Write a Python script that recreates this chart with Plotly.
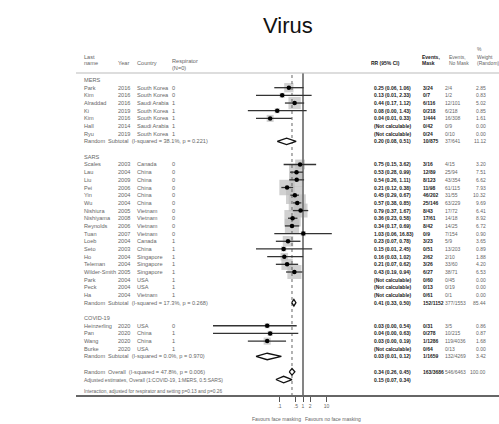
import math
import plotly.graph_objects as go

W, H = 499, 424

# ---------------- data ----------------
group_names = ["MERS", "SARS", "COVID-19"]
group_i2 = ["38.1%", "17.3%", "0.0%"]
group_p = ["0.221", "0.268", "0.970"]
group_rr = [0.20, 0.41, 0.03]
group_lo = [0.08, 0.33, 0.01]
group_hi = [0.51, 0.50, 0.12]
group_ev_mask = ["10/875", "152/1152", "1/1659"]
group_ev_nomask = ["37/641", "377/1553", "132/4269"]
group_weight = [11.12, 85.44, 3.42]

study_group = [0] * 7 + [1] * 18 + [2] * 4
study_name = ["Park", "Kim", "Alraddad", "Ki", "Kim", "Hall", "Ryu",
              "Scales", "Lau", "Liu", "Pei", "Yin", "Wu", "Nishiura", "Nishiyama",
              "Reynolds", "Tuan", "Loeb", "Seto", "Ho", "Teleman", "Wilder-Smith",
              "Park", "Peck", "Ha",
              "Heinzerling", "Pan", "Wang", "Burke"]
study_year = [2016, 2016, 2016, 2019, 2016, 2014, 2019,
              2003, 2004, 2009, 2006, 2004, 2004, 2005, 2008, 2006, 2007, 2004, 2003,
              2004, 2004, 2005, 2004, 2004, 2004,
              2020, 2020, 2020, 2020]
study_country = ["South Korea", "South Korea", "Saudi Arabia", "South Korea", "South Korea",
                 "Saudi Arabia", "South Korea",
                 "Canada", "China", "China", "China", "China", "China", "Vietnam", "Vietnam",
                 "Vietnam", "Vietnam", "Canada", "China", "Singapore", "Singapore", "Singapore",
                 "USA", "USA", "Vietnam",
                 "USA", "China", "China", "USA"]
study_resp = [0, 0, 1, 1, 1, 1, 1,
              0, 0, 0, 0, 0, 0, 0, 0, 0, 0, 1, 1, 1, 1, 1, 1, 1, 1,
              0, 1, 1, 1]
study_rr = [0.25, 0.13, 0.44, 0.08, 0.04, None, None,
            0.75, 0.53, 0.54, 0.21, 0.45, 0.57, 0.79, 0.36, 0.34, 1.03, 0.23, 0.15,
            0.16, 0.21, 0.43, None, None, None,
            0.03, 0.04, 0.03, None]
study_lo = [0.06, 0.01, 0.17, 0.0045, 0.01, None, None,
            0.15, 0.28, 0.26, 0.12, 0.29, 0.38, 0.37, 0.23, 0.17, 0.06, 0.07, 0.01,
            0.03, 0.07, 0.19, None, None, None,
            0.0001, 0.0001, 0.0045, None]
study_hi = [1.06, 2.33, 1.12, 1.43, 0.33, None, None,
            3.62, 0.99, 1.11, 0.38, 0.67, 0.85, 1.67, 0.58, 0.69, 16.83, 0.78, 2.45,
            1.02, 0.62, 0.94, None, None, None,
            0.54, 0.63, 0.19, None]
study_ev_mask = ["3/24", "0/7", "6/116", "0/218", "1/444", "0/42", "0/24",
                 "3/16", "12/89", "8/123", "11/98", "46/202", "25/146", "8/43", "17/61",
                 "8/42", "0/9", "3/23", "0/51", "2/62", "3/26", "6/27", "0/60", "0/13", "0/61",
                 "0/31", "0/278", "1/1286", "0/64"]
study_ev_nomask = ["2/4", "1/2", "12/101", "6/218", "16/308", "0/9", "0/10",
                   "4/15", "25/94", "43/354", "61/115", "31/55", "63/229", "17/72", "14/18",
                   "14/25", "7/154", "5/9", "13/203", "2/10", "33/60", "38/71", "0/45", "0/19", "0/1",
                   "3/5", "10/215", "119/4036", "0/13"]
study_weight = [2.85, 0.83, 5.02, 0.85, 1.61, 0.00, 0.00,
                3.20, 7.51, 6.62, 7.93, 10.32, 9.69, 6.41, 8.92, 6.72, 0.90, 3.65, 0.89,
                1.88, 4.20, 6.53, 0.00, 0.00, 0.00,
                0.86, 0.87, 1.68, 0.00]

overall_rr, overall_lo, overall_hi = 0.34, 0.26, 0.45
overall_i2, overall_p = "47.8%", "0.006"
overall_ev_mask, overall_ev_nomask, overall_weight = "163/3686", "546/6463", 100.00
adjusted_rr, adjusted_lo, adjusted_hi = 0.15, 0.07, 0.34
adjusted_label = "Adjusted estimates, Overall (1:COVID-19, 1:MERS, 0.5:SARS)"
interaction_label = "Interaction, adjusted for respirator and setting p=0.13 and p=0.26"

tick_vals = [0.1, 0.5, 1, 2, 10]
tick_text = [".1", ".5", "1", "2", "10"]

# ---------------- layout helpers ----------------
ROW0, ROWH = 80.0, 7.68          # pixel y of first row, row height
TOP_PX, BOT_PX = 73.0, 396.0     # plot area vertical extent
X_LEFT_PX, X_RIGHT_PX, X_ONE_PX, DEC_PX = 213.0, 340.0, 303.0, 23.5

y_range = [(BOT_PX - ROW0) / ROWH, (TOP_PX - ROW0) / ROWH]
x_range = [(X_LEFT_PX - X_ONE_PX) / DEC_PX, (X_RIGHT_PX - X_ONE_PX) / DEC_PX]

FONT = "Liberation Sans, Arial, sans-serif"
GRAY = "#666666"
DARK = "#1a1a1a"
FS = 5.6      # label font
DS = 5.0      # data column font

annotations = []


def px(x):
    return x / W


def py(y):
    return 1 - y / H


def txt(xpix, row, text, anchor="left", bold=False, color=GRAY, size=FS, paper_y=None):
    a = dict(x=px(xpix), xref="paper", text=("<b>%s</b>" % text) if bold else text,
             showarrow=False, xanchor=anchor, yanchor="middle",
             font=dict(family=FONT, size=size, color=color), borderpad=0)
    if paper_y is None:
        a.update(y=row, yref="y")
    else:
        a.update(y=py(paper_y), yref="paper")
    annotations.append(a)


def fmt_ci(r, l, h):
    return "%.2f (%.2f, %.2f)" % (r, l, h)


X_NAME, X_YEAR, X_COUNTRY, X_RESP = 82.5, 117, 136, 171
X_SUB = 106.7
X_RR, X_EVM, X_EVN, X_W_R = 373, 421.5, 443.5, 487

# headers
txt(X_NAME, 0, "Last", paper_y=56.5)
txt(X_NAME, 0, "name", paper_y=63)
txt(X_YEAR, 0, "Year", paper_y=63)
txt(X_COUNTRY, 0, "Country", paper_y=63)
txt(X_RESP, 0, "Respirator", paper_y=61.5)
txt(X_RESP, 0, "(N=0)", paper_y=68)
txt(370, 0, "RR (95% CI)", bold=True, color=DARK, size=DS, paper_y=63)
txt(421, 0, "Events,", bold=True, color=DARK, size=DS, paper_y=56.5)
txt(421, 0, "Mask", bold=True, color=DARK, size=DS, paper_y=63)
txt(448, 0, "Events,", size=DS, paper_y=56.5)
txt(448, 0, "No Mask", size=DS, paper_y=63)
txt(475.5, 0, "%", size=DS, paper_y=49.5)
txt(475.5, 0, "Weight", size=DS, paper_y=56.5)
txt(475.5, 0, "(Random)", size=DS, paper_y=63)

# rows
box_x, box_y, box_s = [], [], []
ci_x, ci_y = [], []
dot_x, dot_y = [], []
dia_x, dia_y = [], []
DH = 0.42


def add_diamond(r, l, h, row):
    dia_x.extend([l, r, h, r, l, None])
    dia_y.extend([row, row - DH, row, row + DH, row, None])


def data_cols(row, rr_text, evm, evn, w):
    txt(X_RR, row, rr_text, bold=True, color=DARK, size=DS)
    if evm is not None:
        txt(X_EVM, row, evm, bold=True, color=DARK, size=DS)
        txt(X_EVN, row, evn, size=DS)
        txt(X_W_R, row, "%.2f" % w, anchor="right", size=DS)


row = 0
for g, gname in enumerate(group_names):
    txt(X_NAME, row, gname)
    row += 1
    for i in range(len(study_name)):
        if study_group[i] != g:
            continue
        txt(X_NAME, row, study_name[i])
        txt(X_YEAR, row, str(study_year[i]))
        txt(X_COUNTRY, row, study_country[i])
        txt(X_RESP, row, str(study_resp[i]))
        if study_rr[i] is None:
            rr_text = "(Not calculable)"
        else:
            rr_text = fmt_ci(study_rr[i], study_lo[i], study_hi[i])
            if study_weight[i] > 0:
                box_x.append(study_rr[i]); box_y.append(row)
                box_s.append(5.5 * math.sqrt(study_weight[i]))
            ci_x.extend([study_lo[i], study_hi[i], None]); ci_y.extend([row, row, None])
            dot_x.append(study_rr[i]); dot_y.append(row)
        data_cols(row, rr_text, study_ev_mask[i], study_ev_nomask[i], study_weight[i])
        row += 1
    txt(X_NAME, row, "Random")
    txt(X_SUB, row, "Subtotal  (I-squared = %s, p = %s)" % (group_i2[g], group_p[g]))
    data_cols(row, fmt_ci(group_rr[g], group_lo[g], group_hi[g]),
              group_ev_mask[g], group_ev_nomask[g], group_weight[g])
    add_diamond(group_rr[g], group_lo[g], group_hi[g], row)
    row += 2

# overall
txt(X_NAME, row, "Random")
txt(X_SUB, row, "Overall  (I-squared = %s, p = %s)" % (overall_i2, overall_p))
data_cols(row, fmt_ci(overall_rr, overall_lo, overall_hi),
          overall_ev_mask, overall_ev_nomask, overall_weight)
add_diamond(overall_rr, overall_lo, overall_hi, row)
row += 1
txt(X_NAME, row, adjusted_label, size=5.0)
data_cols(row, fmt_ci(adjusted_rr, adjusted_lo, adjusted_hi), None, None, None)
add_diamond(adjusted_rr, adjusted_lo, adjusted_hi, row)
row += 1.5
txt(X_NAME, row, interaction_label, size=4.8)

# title and favours
annotations.append(dict(x=px(288), y=py(25), xref="paper", yref="paper", text="Virus",
                        showarrow=False, xanchor="center", yanchor="middle",
                        font=dict(family=FONT, size=22, color="#111111")))
txt(302, 0, "Favours face masking", anchor="right", size=DS, paper_y=419)
txt(304, 0, "Favours no face masking", anchor="left", size=DS, paper_y=419)

fig = go.Figure()
# weight boxes
fig.add_trace(go.Scatter(x=box_x, y=box_y, mode="markers", hoverinfo="skip",
                         marker=dict(symbol="square", size=box_s, color="#bdbdbd",
                                     line=dict(width=0))))
# reference lines
fig.add_trace(go.Scatter(x=[1, 1], y=y_range, mode="lines", hoverinfo="skip",
                         line=dict(color="#777777", width=1.8)))
fig.add_trace(go.Scatter(x=[overall_rr, overall_rr], y=y_range, mode="lines", hoverinfo="skip",
                         line=dict(color="#666666", width=1, dash="3px,3px")))
# CI lines
fig.add_trace(go.Scatter(x=ci_x, y=ci_y, mode="lines", hoverinfo="skip",
                         line=dict(color="#333333", width=1.3)))
# point estimates
fig.add_trace(go.Scatter(x=dot_x, y=dot_y, mode="markers", hoverinfo="skip",
                         marker=dict(symbol="circle", size=4.5, color="#000000")))
# diamonds
fig.add_trace(go.Scatter(x=dia_x, y=dia_y, mode="lines", fill="toself", fillcolor="white",
                         hoverinfo="skip", line=dict(color="#111111", width=1.3)))

shapes = [
    dict(type="line", xref="paper", yref="paper", x0=px(76), x1=1, y0=py(73), y1=py(73),
         line=dict(color="#bbbbbb", width=1)),
    dict(type="line", xref="paper", yref="paper", x0=px(76), x1=1, y0=py(396), y1=py(396),
         line=dict(color="#666666", width=2)),
]

fig.update_layout(
    width=W, height=H, margin=dict(l=0, r=0, t=0, b=0),
    paper_bgcolor="white", plot_bgcolor="white", showlegend=False,
    annotations=annotations, shapes=shapes,
    xaxis=dict(type="log", domain=[px(X_LEFT_PX), px(X_RIGHT_PX)], range=x_range,
               showgrid=False, zeroline=False, showline=False,
               tickvals=tick_vals, ticktext=tick_text, ticks="outside", ticklen=5,
               tickwidth=1, tickcolor="#555555",
               tickfont=dict(family=FONT, size=DS, color=GRAY)),
    yaxis=dict(domain=[py(BOT_PX), py(TOP_PX)], range=y_range, visible=False),
)

fig.write_html("out.html")
